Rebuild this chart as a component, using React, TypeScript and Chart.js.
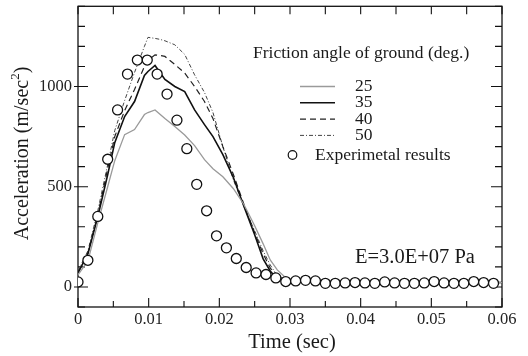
import React, { useEffect, useRef } from "react";
import { Chart, registerables } from "chart.js";

Chart.register(...registerables);

const FONT = "'Liberation Serif', 'Times New Roman', serif";

// Experimental results (circles)
const expTime = [0, 0.0014, 0.0028, 0.0042, 0.0056, 0.007, 0.0084, 0.0098, 0.0112, 0.0126, 0.014, 0.0154, 0.0168, 0.0182, 0.0196, 0.021, 0.0224, 0.0238, 0.0252, 0.0266, 0.028, 0.0294, 0.0308, 0.0322, 0.0336, 0.035, 0.0364, 0.0378, 0.0392, 0.0406, 0.042, 0.0434, 0.0448, 0.0462, 0.0476, 0.049, 0.0504, 0.0518, 0.0532, 0.0546, 0.056, 0.0574, 0.0588];
const expAccel = [25, 133, 352, 637, 883, 1062, 1132, 1132, 1062, 962, 832, 690, 512, 380, 255, 195, 142, 97, 70, 62, 45, 27, 30, 33, 30, 18, 18, 20, 22, 20, 18, 25, 20, 18, 18, 20, 27, 20, 18, 18, 27, 22, 18];

// Simulated curves (friction angle of ground)
const simTime = [0, 0.0014, 0.0028, 0.0042, 0.0052, 0.0066, 0.008, 0.0094, 0.0099, 0.0109, 0.0116, 0.0123, 0.0137, 0.0151, 0.0165, 0.0179, 0.0191, 0.0205, 0.022, 0.0235, 0.025, 0.0262, 0.0272, 0.0282, 0.0295, 0.031, 0.035, 0.04, 0.045, 0.05, 0.055, 0.06];
const accel25 = [60, 130, 320, 500, 630, 760, 785, 860, 870, 883, 862, 840, 800, 758, 705, 635, 590, 550, 490, 410, 305, 215, 135, 85, 42, 28, 24, 23, 24, 23, 22, 22];
const accel35 = [70, 165, 350, 560, 720, 850, 925, 1055, 1075, 1105, 1070, 1035, 1000, 975, 883, 810, 750, 660, 545, 400, 260, 140, 80, 40, 30, 27, 25, 24, 24, 23, 23, 22];
const accel40 = [70, 170, 360, 590, 750, 880, 985, 1100, 1130, 1158, 1155, 1150, 1110, 1067, 1000, 925, 840, 700, 560, 410, 270, 165, 95, 50, 32, 28, 25, 24, 24, 23, 23, 22];
const accel50 = [80, 180, 380, 610, 780, 930, 1070, 1200, 1245, 1240, 1235, 1228, 1208, 1160, 1058, 970, 870, 700, 533, 400, 280, 180, 110, 55, 35, 28, 25, 24, 24, 23, 23, 22];

const legendLabels = ["25", "35", "40", "50"];
const legendTitle = "Friction angle of ground (deg.)";
const expLabel = "Experimetal results";
const noteText = "E=3.0E+07 Pa";

const xTickValues = [0, 0.01, 0.02, 0.03, 0.04, 0.05, 0.06];
const xTickLabels = ["0", "0.01", "0.02", "0.03", "0.04", "0.05", "0.06"];
const yTickValues = [0, 500, 1000];
const yTickLabels = ["0", "500", "1000"];

const lineStyles = [
  { color: "#9a9a9a", width: 1.3, dash: [] as number[] },
  { color: "#111111", width: 1.6, dash: [] as number[] },
  { color: "#222222", width: 1.2, dash: [6, 4] },
  { color: "#444444", width: 1.0, dash: [4, 2, 1, 2] },
];

const pts = (xs: number[], ys: number[]) => xs.map((x, i) => ({ x, y: ys[i] }));

const zeroPad = (s: any) => {
  s.paddingTop = 0;
  s.paddingBottom = 0;
  s.paddingLeft = 0;
  s.paddingRight = 0;
};

export default function App() {
  const ref = useRef<HTMLCanvasElement>(null);

  useEffect(() => {
    const canvas = ref.current!;
    const framePlugin = {
      id: "frame",
      beforeDatasetsDraw(chart: any) {
        const { ctx, chartArea: a, scales } = chart;
        const xs = scales.x;
        const ys = scales.y;
        ctx.save();
        ctx.strokeStyle = "#111";
        ctx.lineWidth = 1.3;
        ctx.strokeRect(a.left, a.top, a.right - a.left, a.bottom - a.top);
        ctx.lineWidth = 1.1;
        ctx.beginPath();
        for (let k = 0; k <= 12; k++) {
          const px = xs.getPixelForValue(k * 0.005);
          const len = k % 2 === 0 ? 9 : 6;
          ctx.moveTo(px, a.bottom);
          ctx.lineTo(px, a.bottom - len);
          ctx.moveTo(px, a.top);
          ctx.lineTo(px, a.top + 8);
        }
        for (let k = -1; k <= 14; k++) {
          const v = k * 100;
          const py = ys.getPixelForValue(v);
          const major = v % 500 === 0;
          ctx.moveTo(a.left - (major ? 4 : 0), py);
          ctx.lineTo(a.left + (major ? 10 : 7), py);
          ctx.moveTo(a.right, py);
          ctx.lineTo(a.right - (major ? 11 : 7), py);
        }
        ctx.stroke();
        ctx.restore();
      },
      afterDraw(chart: any) {
        const { ctx, chartArea: a } = chart;
        ctx.save();
        ctx.fillStyle = "#1a1a1a";
        ctx.textBaseline = "middle";
        ctx.textAlign = "left";
        // legend
        ctx.font = `17.5px ${FONT}`;
        ctx.fillText(legendTitle, 253, 53);
        const rowY = [86.5, 102.8, 119.1, 135.4];
        legendLabels.forEach((lab, i) => {
          const st = lineStyles[i];
          ctx.save();
          ctx.strokeStyle = st.color;
          ctx.lineWidth = st.width;
          ctx.setLineDash(st.dash);
          ctx.beginPath();
          ctx.moveTo(300, rowY[i]);
          ctx.lineTo(335, rowY[i]);
          ctx.stroke();
          ctx.restore();
          ctx.fillText(lab, 355, rowY[i]);
        });
        ctx.save();
        ctx.strokeStyle = "#111";
        ctx.lineWidth = 1.2;
        ctx.beginPath();
        ctx.arc(292.5, 155, 4.3, 0, Math.PI * 2);
        ctx.stroke();
        ctx.restore();
        ctx.fillText(expLabel, 315, 155);
        // note
        ctx.font = `20.5px ${FONT}`;
        ctx.fillText(noteText, 355, 258);
        // x title
        ctx.textAlign = "center";
        ctx.font = `20.5px ${FONT}`;
        ctx.fillText("Time (sec)", (a.left + a.right) / 2 + 2, 343);
        // y title with superscript
        ctx.translate(23, 153.5);
        ctx.rotate(-Math.PI / 2);
        const main = "Acceleration (m/sec";
        ctx.font = `20px ${FONT}`;
        const w1 = ctx.measureText(main).width;
        const w3 = ctx.measureText(")").width;
        ctx.font = `13px ${FONT}`;
        const w2 = ctx.measureText("2").width;
        const total = w1 + w2 + w3;
        const x0 = -total / 2;
        ctx.textAlign = "left";
        ctx.font = `20px ${FONT}`;
        ctx.fillText(main, x0, 0);
        ctx.font = `13px ${FONT}`;
        ctx.fillText("2", x0 + w1, -7);
        ctx.font = `20px ${FONT}`;
        ctx.fillText(")", x0 + w1 + w2, 0);
        ctx.restore();
      },
    };

    const chart = new Chart(canvas, {
      type: "line",
      data: {
        datasets: [
          {
            label: expLabel,
            data: pts(expTime, expAccel),
            showLine: false,
            pointRadius: 5,
            pointBorderWidth: 1.3,
            pointBorderColor: "#111",
            pointBackgroundColor: "#fff",
          },
          ...[accel25, accel35, accel40, accel50].map((arr, i) => ({
            label: legendLabels[i],
            data: pts(simTime, arr),
            borderColor: lineStyles[i].color,
            borderWidth: lineStyles[i].width,
            borderDash: lineStyles[i].dash,
            pointRadius: 0,
            tension: 0,
            fill: false,
          })),
        ],
      },
      options: {
        animation: false,
        responsive: false,
        devicePixelRatio: 1,
        layout: { padding: { top: 6, right: 26, left: 0, bottom: 0 } },
        plugins: { legend: { display: false }, tooltip: { enabled: false } },
        scales: {
          x: {
            type: "linear",
            min: 0,
            max: 0.06,
            grid: { display: false, drawTicks: false },
            border: { display: false },
            afterBuildTicks: (s: any) => {
              s.ticks = xTickValues.map((v) => ({ value: v }));
            },
            afterFit: (s: any) => {
              s.height = 49;
              zeroPad(s);
            },
            ticks: {
              autoSkip: false,
              maxRotation: 0,
              padding: 3,
              color: "#222",
              font: { family: FONT, size: 16.5 },
              callback: (_v: any, i: number) => xTickLabels[i],
            },
          },
          y: {
            type: "linear",
            min: -100,
            max: 1400,
            grid: { display: false, drawTicks: false },
            border: { display: false },
            afterBuildTicks: (s: any) => {
              s.ticks = yTickValues.map((v) => ({ value: v }));
            },
            afterFit: (s: any) => {
              s.width = 78;
              zeroPad(s);
            },
            ticks: {
              autoSkip: false,
              padding: 6,
              color: "#222",
              font: { family: FONT, size: 16.5 },
              callback: (_v: any, i: number) => yTickLabels[i],
            },
          },
        },
      },
      plugins: [framePlugin],
    } as any);
    return () => chart.destroy();
  }, []);

  return (
    <div style={{ position: "fixed", left: 0, top: 0, width: 528, height: 356, background: "#fff" }}>
      <canvas ref={ref} width={528} height={356} style={{ width: 528, height: 356, display: "block" }} />
    </div>
  );
}
